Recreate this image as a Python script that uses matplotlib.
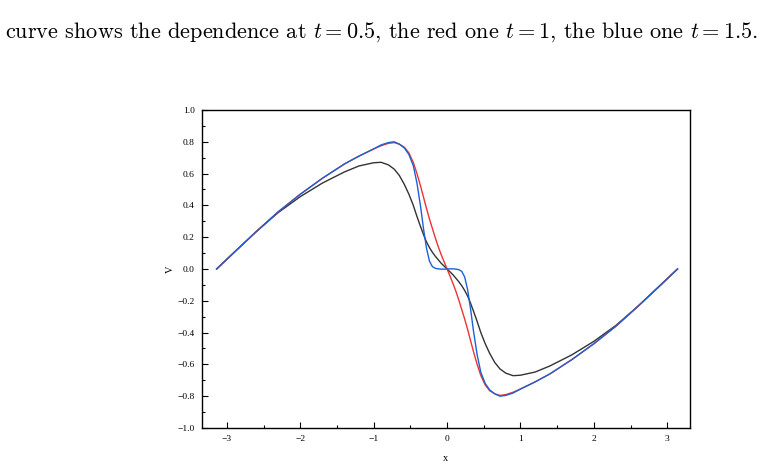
import matplotlib
matplotlib.use('Agg')
import matplotlib.pyplot as plt
from matplotlib.ticker import MultipleLocator

plt.rcParams['mathtext.fontset'] = 'cm'
plt.rcParams['font.family'] = ['Liberation Serif', 'DejaVu Serif']

x = [-3.14, -2.9, -2.6, -2.3, -2.0, -1.7, -1.4, -1.2, -1.0, -0.9, -0.8, -0.72,
     -0.65, -0.58, -0.52, -0.46, -0.41, -0.36, -0.32, -0.28, -0.24, -0.2, -0.16,
     -0.12, -0.08, -0.04, 0.0, 0.04, 0.08, 0.12, 0.16, 0.2, 0.24, 0.28, 0.32,
     0.36, 0.41, 0.46, 0.52, 0.58, 0.65, 0.72, 0.8, 0.9, 1.0, 1.2, 1.4, 1.7,
     2.0, 2.3, 2.6, 2.9, 3.14]

# t = 0.5 (black)
v_black = [0.0, 0.105, 0.235, 0.355, 0.455, 0.54, 0.61, 0.648, 0.668, 0.671, 0.655, 0.628,
           0.588, 0.53, 0.47, 0.40, 0.33, 0.265, 0.215, 0.17, 0.135, 0.105, 0.08,
           0.058, 0.036, 0.018, 0.0, -0.018, -0.036, -0.058, -0.08, -0.105, -0.135, -0.17, -0.215,
           -0.265, -0.33, -0.40, -0.47, -0.53, -0.588, -0.628, -0.655, -0.671, -0.668, -0.648, -0.61, -0.54,
           -0.455, -0.355, -0.235, -0.105, 0.0]

# t = 1 (red)
v_red = [0.0, 0.105, 0.235, 0.36, 0.47, 0.57, 0.66, 0.71, 0.755, 0.775, 0.79, 0.795,
         0.785, 0.765, 0.73, 0.67, 0.60, 0.52, 0.45, 0.38, 0.315, 0.255, 0.195,
         0.14, 0.09, 0.045, 0.0, -0.045, -0.09, -0.14, -0.195, -0.255, -0.315, -0.38, -0.45,
         -0.52, -0.60, -0.67, -0.73, -0.765, -0.785, -0.795, -0.79, -0.775, -0.755, -0.71, -0.66, -0.57,
         -0.47, -0.36, -0.235, -0.105, 0.0]

# t = 1.5 (blue)
v_blue = [0.0, 0.105, 0.235, 0.36, 0.47, 0.57, 0.66, 0.71, 0.755, 0.78, 0.795, 0.80,
          0.785, 0.76, 0.72, 0.65, 0.54, 0.39, 0.25, 0.13, 0.05, 0.015, 0.004,
          0.001, -0.001, -0.001, 0.0, 0.001, 0.001, -0.001, -0.004, -0.015, -0.05, -0.13, -0.25,
          -0.39, -0.54, -0.65, -0.72, -0.76, -0.785, -0.80, -0.795, -0.78, -0.755, -0.71, -0.66, -0.57,
          -0.47, -0.36, -0.235, -0.105, 0.0]

fig = plt.figure(figsize=(7.62, 4.67), dpi=100)
ax = fig.add_axes([0.265, 0.0835, 0.6405, 0.681])

ax.plot(x, v_black, color='#333333', lw=1.0)
ax.plot(x, v_red, color='#ee3333', lw=1.0)
ax.plot(x, v_blue, color='#1a62d6', lw=1.0)

ax.set_xlim(-3.34, 3.31)
ax.set_ylim(-1.0, 1.0)
ax.xaxis.set_major_locator(MultipleLocator(1))
ax.xaxis.set_minor_locator(MultipleLocator(0.5))
ax.yaxis.set_major_locator(MultipleLocator(0.2))
ax.yaxis.set_minor_locator(MultipleLocator(0.1))
ax.yaxis.set_major_formatter(plt.FuncFormatter(lambda v, p: ('%.1f' % v).replace('-', '\u2212')))
ax.xaxis.set_major_formatter(plt.FuncFormatter(lambda v, p: ('%d' % round(v)).replace('-', '\u2212')))
ax.tick_params(which='both', direction='in', labelsize=6.8, width=0.8, pad=5)
ax.tick_params(which='major', length=4)
ax.tick_params(which='minor', length=2)
for s in ax.spines.values():
    s.set_linewidth(1.0)

ax.set_xlabel('x', fontsize=7.5, labelpad=8)
ax.set_ylabel('V', fontsize=7.5, labelpad=2)

# caption line of the surrounding document
fig.text(0.006, 0.919, r'curve shows the dependence at $t = 0.5$, the red one $t = 1$, the blue one $t = 1.5$.',
         family='cmr10', fontsize=16, va='baseline', ha='left')

fig.savefig('out.png', dpi=100)
